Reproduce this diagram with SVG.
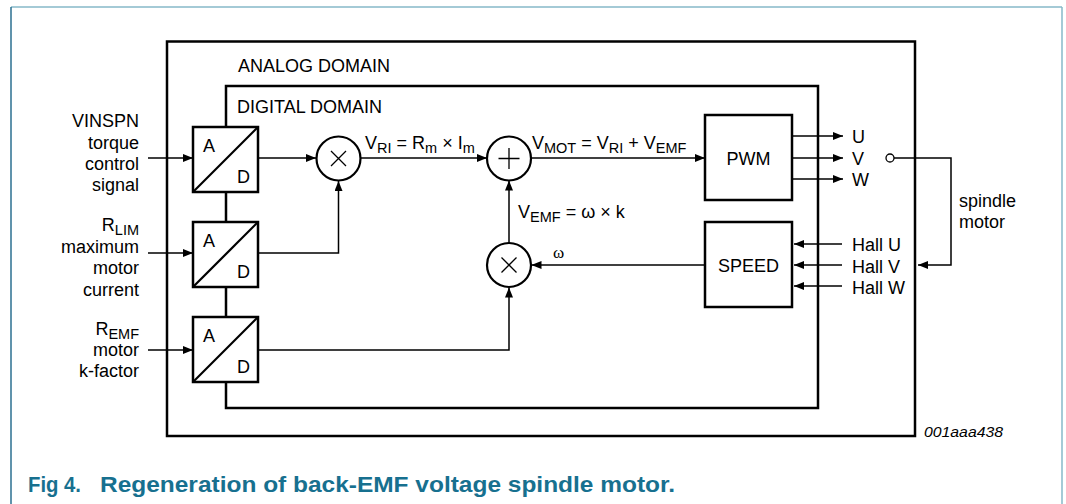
<svg xmlns="http://www.w3.org/2000/svg" width="1066" height="504" viewBox="0 0 1066 504">
<defs>
<style>
.t{font-family:"Liberation Sans",Arial,sans-serif;font-size:18px;fill:#000}
.s{font-size:14.5px}
.box{fill:#fff;stroke:#000;stroke-width:2.5}
.dom{fill:none;stroke:#000;stroke-width:2.5}
.c{fill:none;stroke:#000;stroke-width:1.5}
.op{fill:#fff;stroke:#000;stroke-width:2.2}
.sym{fill:none;stroke:#000;stroke-width:1.3}
.cap{font-family:"Liberation Sans",Arial,sans-serif;font-weight:bold;font-size:22px;fill:#17708f}
</style>
<marker id="ar" viewBox="0 0 10 8" refX="10" refY="4" markerWidth="10" markerHeight="8" markerUnits="userSpaceOnUse" orient="auto">
<path d="M0,0 L10,4 L0,8 Z" fill="#000"/>
</marker>
</defs>
<rect width="1066" height="504" fill="#fff"/>
<g id="frame">
<line x1="11" y1="7" x2="1062" y2="7" stroke="#86b8c8" stroke-width="1.5"/>
<line x1="1062" y1="7" x2="1062" y2="504" stroke="#86b8c8" stroke-width="1.5"/>
<line x1="11" y1="7" x2="11" y2="504" stroke="#2b6f90" stroke-width="1.5"/>
</g>
<g id="analog-domain">
<rect class="dom" x="167" y="41.5" width="748" height="394.5"/>
<text class="t" x="238" y="72">ANALOG DOMAIN</text>
</g>
<g id="digital-domain">
<rect class="dom" x="226" y="86" width="592" height="322"/>
<text class="t" x="237" y="112.5">DIGITAL DOMAIN</text>
</g>
<g id="connectors">
<path class="c" d="M148,158 H193" marker-end="url(#ar)"/>
<path class="c" d="M148,253 H193" marker-end="url(#ar)"/>
<path class="c" d="M148,350 H193" marker-end="url(#ar)"/>
<path class="c" d="M258,158 H316" marker-end="url(#ar)"/>
<path class="c" d="M258,253 H338.5 V181" marker-end="url(#ar)"/>
<path class="c" d="M258,350 H509 V287.5" marker-end="url(#ar)"/>
<path class="c" d="M361,158 H487" marker-end="url(#ar)"/>
<path class="c" d="M531,158 H705" marker-end="url(#ar)"/>
<path class="c" d="M509,243 V180.5" marker-end="url(#ar)"/>
<path class="c" d="M705,265 H531.5" marker-end="url(#ar)"/>
<path class="c" d="M792,136 H843" marker-end="url(#ar)"/>
<path class="c" d="M792,158 H843" marker-end="url(#ar)"/>
<path class="c" d="M792,179 H843" marker-end="url(#ar)"/>
<path class="c" d="M842,244 H794" marker-end="url(#ar)"/>
<path class="c" d="M842,265 H794" marker-end="url(#ar)"/>
<path class="c" d="M842,286 H794" marker-end="url(#ar)"/>
<path class="c" d="M894,158 H951 V265 H918" marker-end="url(#ar)"/>
<circle cx="890" cy="158" r="4" fill="#fff" stroke="#000" stroke-width="1.3"/>
</g>
<g id="input-vinspn">
<text class="t" text-anchor="end" x="139" y="127">VINSPN</text>
<text class="t" text-anchor="end" x="139" y="148.5">torque</text>
<text class="t" text-anchor="end" x="139" y="170">control</text>
<text class="t" text-anchor="end" x="139" y="191">signal</text>
</g>
<g id="input-rlim">
<text class="t" text-anchor="end" x="139" y="231">R<tspan class="s" dy="4">LIM</tspan></text>
<text class="t" text-anchor="end" x="139" y="253">maximum</text>
<text class="t" text-anchor="end" x="139" y="274">motor</text>
<text class="t" text-anchor="end" x="139" y="295.5">current</text>
</g>
<g id="input-remf">
<text class="t" text-anchor="end" x="139" y="335">R<tspan class="s" dy="4">EMF</tspan></text>
<text class="t" text-anchor="end" x="139" y="356">motor</text>
<text class="t" text-anchor="end" x="139" y="377">k-factor</text>
</g>
<g id="adc1">
<rect class="box" x="193" y="127" width="65" height="65"/>
<line x1="193" y1="192" x2="258" y2="127" stroke="#000" stroke-width="2.2"/>
<text class="t" x="203" y="152">A</text>
<text class="t" x="237" y="183">D</text>
</g>
<g id="adc2">
<rect class="box" x="193" y="222" width="65" height="65"/>
<line x1="193" y1="287" x2="258" y2="222" stroke="#000" stroke-width="2.2"/>
<text class="t" x="203" y="247">A</text>
<text class="t" x="237" y="278">D</text>
</g>
<g id="adc3">
<rect class="box" x="193" y="317" width="65" height="65"/>
<line x1="193" y1="382" x2="258" y2="317" stroke="#000" stroke-width="2.2"/>
<text class="t" x="203" y="342">A</text>
<text class="t" x="237" y="373">D</text>
</g>
<g id="mult1">
<circle class="op" cx="338.5" cy="158.5" r="22"/>
<path class="sym" d="M331,151 L346,166 M346,151 L331,166"/>
</g>
<g id="sum">
<circle class="op" cx="509" cy="158.5" r="22"/>
<path class="sym" d="M498.5,158.5 H519.5 M509,148 V169"/>
</g>
<g id="mult2">
<circle class="op" cx="509" cy="265" r="22"/>
<path class="sym" d="M501.5,257.5 L516.5,272.5 M516.5,257.5 L501.5,272.5"/>
</g>
<g id="pwm">
<rect class="box" x="705" y="115" width="87" height="85"/>
<text class="t" x="748.5" y="165" text-anchor="middle">PWM</text>
</g>
<g id="speed">
<rect class="box" x="705" y="222" width="87" height="85"/>
<text class="t" x="748.5" y="272" text-anchor="middle">SPEED</text>
</g>
<g id="labels">
<text class="t" x="365" y="148.5">V<tspan class="s" dy="4">RI</tspan><tspan dy="-4"> = R</tspan><tspan class="s" dy="4">m</tspan><tspan dy="-4"> × I</tspan><tspan class="s" dy="4">m</tspan></text>
<text class="t" x="532" y="148.5">V<tspan class="s" dy="4">MOT</tspan><tspan dy="-4"> = V</tspan><tspan class="s" dy="4">RI</tspan><tspan dy="-4"> + V</tspan><tspan class="s" dy="4">EMF</tspan></text>
<text class="t" x="518" y="218">V<tspan class="s" dy="4">EMF</tspan><tspan dy="-4"> = ω × k</tspan></text>
<text x="553" y="258" font-family="'Liberation Serif',serif" font-size="17">ω</text>
<text class="t" x="852" y="143">U</text>
<text class="t" x="852" y="164.5">V</text>
<text class="t" x="852" y="185.5">W</text>
<text class="t" x="852" y="251">Hall U</text>
<text class="t" x="852" y="272.5">Hall V</text>
<text class="t" x="852" y="293.5">Hall W</text>
<text class="t" x="959" y="207">spindle</text>
<text class="t" x="959" y="228">motor</text>
<text x="924" y="437" font-family="'Liberation Sans',Arial,sans-serif" font-style="italic" font-size="14" textLength="79" lengthAdjust="spacingAndGlyphs">001aaa438</text>
</g>
<g id="caption">
<text class="cap" x="28" y="492" textLength="53" lengthAdjust="spacingAndGlyphs">Fig 4.</text>
<text class="cap" x="100" y="492" textLength="575" lengthAdjust="spacingAndGlyphs">Regeneration of back-EMF voltage spindle motor.</text>
</g>
</svg>
